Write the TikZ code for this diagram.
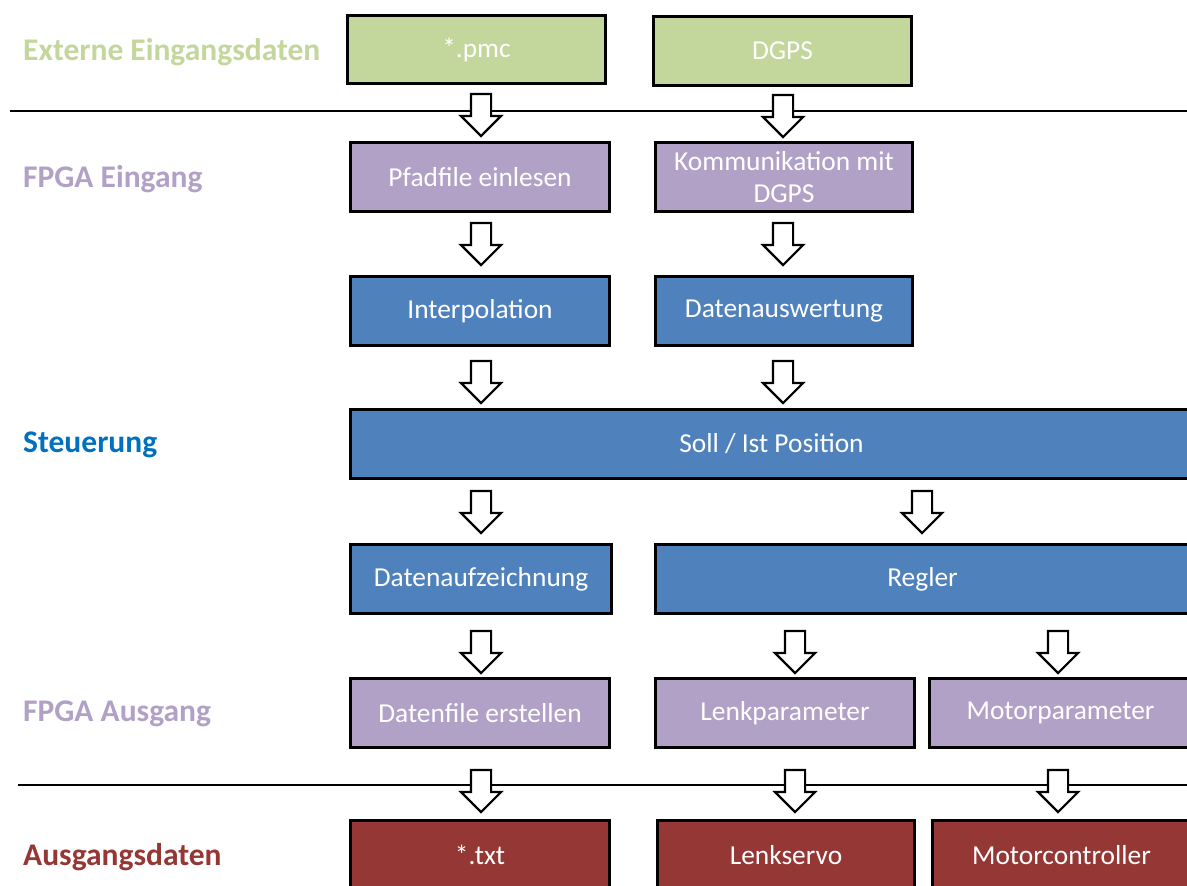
\documentclass[tikz,border=0pt]{standalone}
\usepackage{fontspec}
\setmainfont{Carlito}
\usetikzlibrary{shapes.arrows}
\definecolor{cgreen}{HTML}{C3D69B}
\definecolor{cpurple}{HTML}{B2A1C7}
\definecolor{cblue}{HTML}{4F81BD}
\definecolor{cred}{HTML}{953735}
\definecolor{csteer}{HTML}{0070C0}
\tikzset{
  box/.style={draw=black, line width=3pt, text=white, anchor=north west,
    inner sep=0pt, align=center,
    font=\fontsize{27.4}{32}\selectfont},
  greenbox/.style={box, fill=cgreen},
  purplebox/.style={box, fill=cpurple},
  bluebox/.style={box, fill=cblue},
  redbox/.style={box, fill=cred},
  rowlabel/.style={anchor=west, inner sep=0pt,
    font=\fontsize{31.5}{36}\selectfont\bfseries},
  flowarrow/.style={single arrow, draw=black, fill=white, line width=2.2pt,
    shape border rotate=270, minimum height=42pt, minimum width=38pt,
    inner sep=9pt, single arrow head extend=10pt, single arrow head indent=0pt},
  rule/.style={line width=1.3pt}
}
\newcommand{\bx}[7]{% style, name, x, y, w, h, text
  \node[#1, minimum width=#5pt, minimum height=#6pt] (#2) at (#3,#4) {#7};}
\begin{document}
\begin{tikzpicture}[x=1pt,y=-1pt]
\useasboundingbox (0,0) rectangle (1187,886);
\clip (0,0) rectangle (1187,886);
\fill[white] (0,0) rectangle (1187,886);

% horizontal rules separating external data from the FPGA
\draw[rule] (10,111) coordinate (r1a) -- (1187,111) coordinate (r1b);
\draw[rule] (18,785) coordinate (r2a) -- (1187,785) coordinate (r2b);

% row labels
\node[rowlabel, text=cgreen]  (lext)  at (23,52)  {Externe Eingangsdaten};
\node[rowlabel, text=cpurple] (lin)   at (23,179) {FPGA Eingang};
\node[rowlabel, text=csteer]  (lst)   at (23,445) {Steuerung};
\node[rowlabel, text=cpurple] (lout)  at (23,714) {FPGA Ausgang};
\node[rowlabel, text=cred]    (laus)  at (23,857) {Ausgangsdaten};

% external input data
\bx{greenbox}{pmc}{346}{14}{258}{68}{*.pmc}
\bx{greenbox}{dgps}{652}{15}{258}{69}{DGPS}

% FPGA input
\bx{purplebox}{pfad}{349}{141}{259}{69}{Pfadfile einlesen}
\bx{purplebox}{komm}{654}{141}{257}{69}{Kommunikation mit\\DGPS}

% control
\bx{bluebox}{interp}{349}{275}{259}{69}{Interpolation}
\bx{bluebox}{auswert}{654}{275}{257}{69}{Datenauswertung}
\bx{bluebox}{soll}{349}{408}{842}{69}{Soll / Ist Position}
\bx{bluebox}{aufz}{349}{543}{261}{69}{Datenaufzeichnung}
\bx{bluebox}{regler}{654}{543}{534}{69}{Regler}

% FPGA output
\bx{purplebox}{dfile}{349}{677}{259}{69}{Datenfile erstellen}
\bx{purplebox}{lenkp}{654}{677}{259}{69}{Lenkparameter}
\bx{purplebox}{motp}{928}{677}{262}{69}{Motorparameter}

% output data
\bx{redbox}{txt}{349}{819}{259}{69}{*.txt}
\bx{redbox}{servo}{656}{819}{257}{69}{Lenkservo}
\bx{redbox}{motc}{931}{819}{258}{69}{Motorcontroller}

% block arrows between the stages
\node[flowarrow] (a1) at (481,110) {};
\node[flowarrow] (a2) at (783,111) {};
\node[flowarrow] (a3) at (481,239) {};
\node[flowarrow] (a4) at (783,239) {};
\node[flowarrow] (a5) at (481,377) {};
\node[flowarrow] (a6) at (783,377) {};
\node[flowarrow] (a7) at (481,507) {};
\node[flowarrow] (a8) at (922,507) {};
\node[flowarrow] (a9) at (481,647) {};
\node[flowarrow] (a10) at (795,647) {};
\node[flowarrow] (a11) at (1058,647) {};
\node[flowarrow] (a12) at (481,786) {};
\node[flowarrow] (a13) at (795,786) {};
\node[flowarrow] (a14) at (1058,786) {};
\end{tikzpicture}
\end{document}
